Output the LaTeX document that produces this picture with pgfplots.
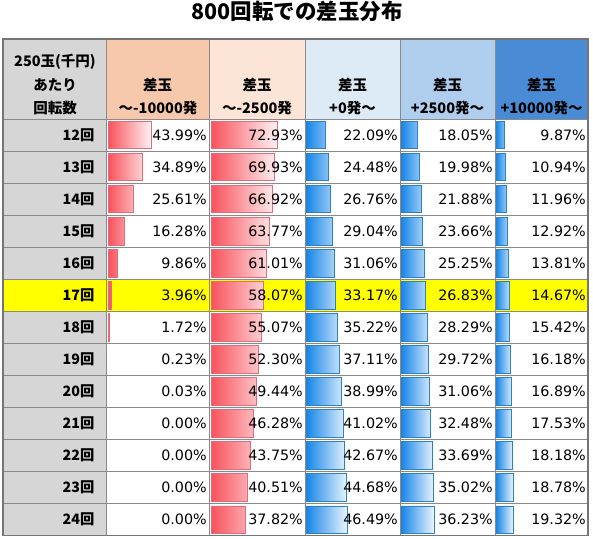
\documentclass[border=0pt]{standalone}
\usepackage{pgfplots}
\pgfplotsset{compat=1.18}
\usepackage{pgfplotstable}
\usepackage{fontspec}
\setmainfont{DejaVu Sans}
\newfontfamily\jp{Noto Sans CJK JP}
\definecolor{grayc}{HTML}{D6D6D6}
\definecolor{h1}{HTML}{F6C9AD}
\definecolor{h2}{HTML}{FCE4D6}
\definecolor{h3}{HTML}{DDEBF7}
\definecolor{h4}{HTML}{AFCDEC}
\definecolor{h5}{HTML}{4A8BD6}
\definecolor{gridc}{HTML}{8A8A8A}
\definecolor{rbar}{HTML}{F8525D}
\definecolor{rbord}{HTML}{E66A78}
\definecolor{bbar}{HTML}{1585E8}
\definecolor{bbord}{HTML}{2A82CC}
\definecolor{hl}{HTML}{FFFF00}

\pgfplotstableread{
row a b c d e
1 43.99 72.93 22.09 18.05 9.87
2 34.89 69.93 24.48 19.98 10.94
3 25.61 66.92 26.76 21.88 11.96
4 16.28 63.77 29.04 23.66 12.92
5 9.86 61.01 31.06 25.25 13.81
6 3.96 58.07 33.17 26.83 14.67
7 1.72 55.07 35.22 28.29 15.42
8 0.23 52.30 37.11 29.72 16.18
9 0.03 49.44 38.99 31.06 16.89
10 0.00 46.28 41.02 32.48 17.53
11 0.00 43.75 42.67 33.69 18.18
12 0.00 40.51 44.68 35.02 18.78
13 0.00 37.82 46.49 36.23 19.32
}\datatable

\pgfplotsset{
  colaxis/.style={
    scale only axis, height=416.7pt, ymin=0.5, ymax=13.5, y dir=reverse,
    axis line style={draw=none}, major tick length=0pt,
    xtick=\empty, ytick=\empty, clip=false,
    /pgf/number format/assume math mode=true,
  },
  barred/.style={xbar, bar width=27.5pt, draw=rbord, line width=0.8pt,
    left color=rbar, right color=rbar!7!white, restrict x to domain=0.5:200},
  barblue/.style={xbar, bar width=27.5pt, draw=bbord, line width=0.8pt,
    left color=bbar, right color=bbar!7!white},
  lab/.style={draw=none, mark=none, point meta=explicit,
    nodes near coords={\pgfmathprintnumber[fixed,fixed zerofill,precision=2]{\pgfplotspointmeta}\%},
    every node near coord/.append style={anchor=east, inner sep=0pt, text=black,
      font=\fontsize{14.3}{16}\selectfont}},
}

\begin{document}
\begin{tikzpicture}
\useasboundingbox (0,0) rectangle (593pt,538pt);
% frame axis in pixel coordinates
\begin{axis}[at={(0,0)}, anchor=south west, scale only axis, width=593pt, height=538pt,
  xmin=0, xmax=593, ymin=0, ymax=538, y dir=reverse, hide axis, clip=false]
  % header fills
  \fill[grayc] (3,39) rectangle (106,119);
  \fill[h1] (106,39) rectangle (209,119);
  \fill[h2] (209,39) rectangle (305,119);
  \fill[h3] (305,39) rectangle (400,119);
  \fill[h4] (400,39) rectangle (495,119);
  \fill[h5] (495,39) rectangle (588,119);
  % label column
  \fill[grayc] (3,119) rectangle (106,535.7);
  % highlighted row (17)
  \fill[hl] (3,279.25) rectangle (588,311.3);
  % grid
  \draw[gridc, line width=1pt] (106,39) -- (106,535.7);
  \draw[gridc, line width=1pt] (209,39) -- (209,535.7);
  \draw[gridc, line width=1pt] (305,39) -- (305,535.7);
  \draw[gridc, line width=1pt] (400,39) -- (400,535.7);
  \draw[gridc, line width=1pt] (495,39) -- (495,535.7);
  \draw[gridc, line width=1pt] (3,119) -- (588,119);
  \draw[gridc, line width=1pt] (3,151.05) -- (588,151.05);
  \draw[gridc, line width=1pt] (3,183.1) -- (588,183.1);
  \draw[gridc, line width=1pt] (3,215.15) -- (588,215.15);
  \draw[gridc, line width=1pt] (3,247.2) -- (588,247.2);
  \draw[gridc, line width=1pt] (3,279.25) -- (588,279.25);
  \draw[gridc, line width=1pt] (3,311.3) -- (588,311.3);
  \draw[gridc, line width=1pt] (3,343.35) -- (588,343.35);
  \draw[gridc, line width=1pt] (3,375.4) -- (588,375.4);
  \draw[gridc, line width=1pt] (3,407.45) -- (588,407.45);
  \draw[gridc, line width=1pt] (3,439.5) -- (588,439.5);
  \draw[gridc, line width=1pt] (3,471.55) -- (588,471.55);
  \draw[gridc, line width=1pt] (3,503.6) -- (588,503.6);
  \draw[gridc!85!black, line width=1.3pt] (3,39) rectangle (588,535.7);
  % title
  \node[font=\jp\bfseries\fontsize{21.5}{24}\selectfont] at (297,11) {800回転での差玉分布};
  % headers
  \node[font=\jp\bfseries\fontsize{14.5}{16}\selectfont] at (55,62) {250玉(千円)};
  \node[font=\jp\bfseries\fontsize{14.5}{16}\selectfont] at (55,85) {あたり};
  \node[font=\jp\bfseries\fontsize{14.5}{16}\selectfont] at (55,108) {回転数};
  \node[font=\jp\bfseries\fontsize{14.5}{16}\selectfont] at (157.5,85) {差玉};
  \node[font=\jp\bfseries\fontsize{14.5}{16}\selectfont] at (158,108) {～-10000発};
  \node[font=\jp\bfseries\fontsize{14.5}{16}\selectfont] at (257,85) {差玉};
  \node[font=\jp\bfseries\fontsize{14.5}{16}\selectfont] at (257,108) {～-2500発};
  \node[font=\jp\bfseries\fontsize{14.5}{16}\selectfont] at (352.5,85) {差玉};
  \node[font=\jp\bfseries\fontsize{14.5}{16}\selectfont] at (352.5,108) {+0発～};
  \node[font=\jp\bfseries\fontsize{14.5}{16}\selectfont] at (447.5,85) {差玉};
  \node[font=\jp\bfseries\fontsize{14.5}{16}\selectfont] at (447.5,108) {+2500発～};
  \node[font=\jp\bfseries\fontsize{14.5}{16}\selectfont] at (541.5,85) {差玉};
  \node[font=\jp\bfseries\fontsize{14.5}{16}\selectfont] at (541.5,108) {+10000発～};
\end{axis}

% column 1
\begin{axis}[colaxis, at={(106pt,2.3pt)}, anchor=south west, width=103pt,
  xmin=-2.04, xmax=103.06,
  ytick={1,...,13},
  yticklabels={12回,13回,14回,15回,16回,17回,18回,19回,20回,21回,22回,23回,24回},
  yticklabel style={font=\jp\bfseries\fontsize{14.3}{16}\selectfont, inner sep=0pt, xshift=-11.5pt}]
  \addplot[barred] table[x=a, y=row] {\datatable};
  \addplot[lab] table[x expr=101.0, y=row, meta=a] {\datatable};
\end{axis}
% column 2
\begin{axis}[colaxis, at={(209pt,2.3pt)}, anchor=south west, width=96pt,
  xmin=-2.2, xmax=103.3]
  \addplot[barred] table[x=b, y=row] {\datatable};
  \addplot[lab] table[x expr=101.1, y=row, meta=b] {\datatable};
\end{axis}
% column 3
\begin{axis}[colaxis, at={(305pt,2.3pt)}, anchor=south west, width=95pt,
  xmin=-1.11, xmax=104.4]
  \addplot[barblue] table[x=c, y=row] {\datatable};
  \addplot[lab] table[x expr=102.2, y=row, meta=c] {\datatable};
\end{axis}
% column 4
\begin{axis}[colaxis, at={(400pt,2.3pt)}, anchor=south west, width=95pt,
  xmin=-1.09, xmax=102.2]
  \addplot[barblue] table[x=d, y=row] {\datatable};
  \addplot[lab] table[x expr=100.0, y=row, meta=d] {\datatable};
\end{axis}
% column 5
\begin{axis}[colaxis, at={(495pt,2.3pt)}, anchor=south west, width=93pt,
  xmin=-1.11, xmax=102.2]
  \addplot[barblue] table[x=e, y=row] {\datatable};
  \addplot[lab] table[x expr=100.0, y=row, meta=e] {\datatable};
\end{axis}
\end{tikzpicture}
\end{document}
